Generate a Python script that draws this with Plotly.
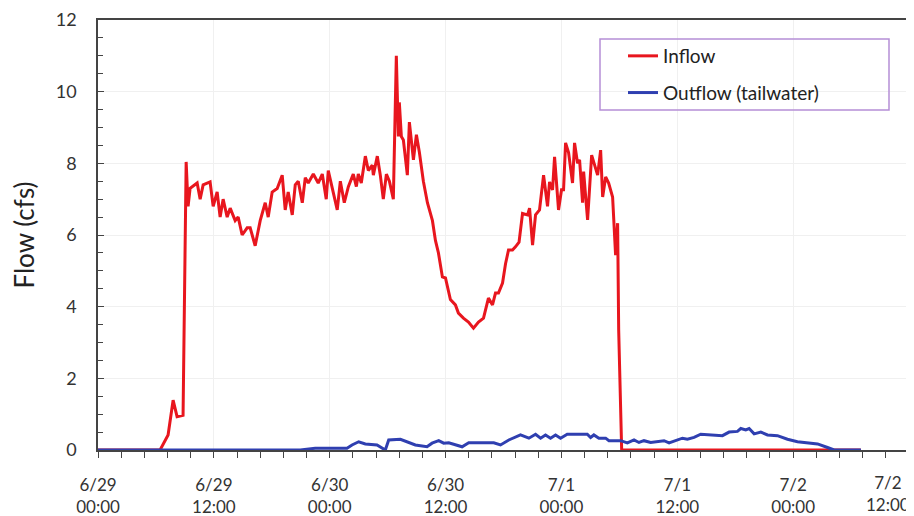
import pandas as pd
import plotly.graph_objects as go

# hours since 6/29 00:00
inflow_hours = [0.0, 6.43, 7.26, 7.78, 8.19, 8.81, 9.13, 9.33, 9.54, 10.27, 10.58, 10.89, 11.61, 11.93,
                12.34, 12.65, 12.96, 13.38, 13.69, 14.21, 14.52, 14.93, 15.45, 15.76, 16.28, 16.80,
                17.32, 17.63, 18.04, 18.56, 19.08, 19.39, 19.70, 20.12, 20.43, 20.74, 21.16, 21.47,
                21.78, 22.30, 22.81, 23.23, 23.64, 23.85, 24.27, 24.78, 25.10, 25.51, 25.93, 26.44,
                26.76, 26.96, 27.27, 27.69, 28.00, 28.41, 28.52, 28.93, 29.24, 29.55, 29.87, 30.18,
                30.59, 30.90, 31.11, 31.21, 31.42, 31.63, 32.04, 32.25, 32.67, 32.98, 33.29, 33.70,
                34.12, 34.64, 34.95, 35.26, 35.67, 35.99, 36.50, 37.02, 37.33, 37.85, 38.37, 38.89,
                39.41, 39.93, 40.44, 40.86, 41.17, 41.48, 41.90, 42.21, 42.52, 42.93, 43.24, 43.61,
                43.97, 44.49, 44.70, 45.01, 45.32, 45.73, 46.15, 46.56, 46.77, 47.08, 47.29, 47.70,
                48.01, 48.22, 48.43, 48.74, 49.15, 49.36, 49.67, 49.88, 50.19, 50.30, 50.50, 50.71,
                51.13, 51.54, 51.75, 52.06, 52.27, 52.58, 52.89, 53.30, 53.41, 53.61, 53.82, 53.93,
                54.24, 79.0]
inflow_cfs = [0.0, 0.0, 0.42, 1.39, 0.93, 0.97, 8.04, 6.8, 7.3, 7.45, 7.0, 7.4, 7.48, 6.8,
              7.2, 6.5, 7.0, 6.5, 6.75, 6.4, 6.5, 6.0, 6.2, 6.2, 5.7, 6.4,
              6.9, 6.5, 7.2, 7.3, 7.67, 6.7, 7.2, 6.56, 7.4, 7.5, 6.9, 7.6,
              7.45, 7.7, 7.45, 7.7, 7.0, 7.8, 7.3, 6.7, 7.5, 6.9, 7.35, 7.7,
              7.35, 7.7, 7.45, 8.2, 7.8, 7.95, 7.67, 8.2, 7.67, 7.0, 7.7, 7.5,
              7.0, 11.0, 8.75, 9.7, 8.75, 8.65, 7.67, 9.15, 8.1, 8.8, 8.3, 7.5,
              6.9, 6.4, 5.85, 5.5, 4.83, 4.8, 4.2, 4.05, 3.82, 3.68, 3.57, 3.4,
              3.57, 3.68, 4.24, 4.05, 4.38, 4.38, 4.66, 5.2, 5.58, 5.58, 5.67, 5.8,
              6.6, 6.56, 6.75, 5.72, 6.56, 6.7, 7.67, 6.8, 7.48, 7.26, 8.18, 6.7,
              7.26, 7.26, 8.57, 8.3, 7.45, 8.57, 8.0, 8.1, 6.9, 7.77, 7.1, 6.42,
              8.23, 7.9, 7.67, 8.37, 7.06, 7.62, 7.45, 7.06, 6.42, 5.44, 6.33, 3.35,
              0.0, 0.0]

outflow_hours = [0.0, 20.95, 22.50, 25.79, 26.31, 27.0, 27.69, 28.90, 29.76, 30.11, 31.32, 32.01,
                 32.87, 34.08, 34.60, 35.29, 35.81, 36.33, 37.20, 37.71, 38.40, 40.99, 41.69,
                 42.55, 43.76, 44.63, 45.32, 45.84, 46.35, 46.87, 47.39, 47.91, 48.60, 50.68,
                 51.02, 51.36, 51.88, 52.58, 52.92, 53.96, 54.13, 54.83, 55.52, 56.03, 56.55,
                 57.24, 57.94, 58.63, 59.15, 59.84, 60.53, 61.05, 61.74, 62.43, 63.47, 64.68,
                 65.37, 66.23, 66.58, 67.09, 67.44, 67.96, 68.65, 69.34, 70.38, 71.41, 72.45,
                 73.49, 74.53, 75.56, 76.25, 79.02]
outflow_cfs = [0.0, 0.0, 0.05, 0.05, 0.14, 0.23, 0.17, 0.14, 0.0, 0.28, 0.3, 0.23,
               0.14, 0.09, 0.19, 0.26, 0.19, 0.2, 0.14, 0.09, 0.2, 0.2, 0.14,
               0.28, 0.42, 0.33, 0.44, 0.33, 0.42, 0.33, 0.42, 0.33, 0.44, 0.44,
               0.35, 0.42, 0.33, 0.33, 0.26, 0.26, 0.26, 0.2, 0.28, 0.21, 0.26,
               0.21, 0.23, 0.26, 0.2, 0.26, 0.33, 0.3, 0.35, 0.44, 0.42, 0.4,
               0.5, 0.52, 0.6, 0.56, 0.6, 0.45, 0.5, 0.42, 0.4, 0.3, 0.23,
               0.19, 0.17, 0.07, 0.0, 0.0]

series_names = ["Inflow", "Outflow (tailwater)"]
y_label = "Flow (cfs)"
last_tick_label = "7/2<br>12:00"

base = pd.Timestamp("2015-06-29 00:00")
inflow_t = [base + pd.Timedelta(hours=h) for h in inflow_hours]
outflow_t = [base + pd.Timedelta(hours=h) for h in outflow_hours]

FONT = "Lato"
fig = go.Figure()
fig.add_trace(go.Scatter(x=inflow_t, y=inflow_cfs, mode="lines", name=series_names[0],
                         legendgroup="a", line=dict(color="#e8161e", width=3)))
fig.add_trace(go.Scatter(x=outflow_t, y=outflow_cfs, mode="lines", name=series_names[1],
                         legendgroup="b", line=dict(color="#2f3fb0", width=3)))

# page body has an 8px margin, so the figure is placed at (8, 8) in the window
OFF = 8
W, H = 914 - OFF, 516 - OFF
L, T = 98 - OFF, 20 - OFF
R = W - (909 - OFF)
B = H - (450 - OFF)
pw, ph = W - L - R, H - T - B

def px_x(x):
    return (x - OFF - L) / pw

def px_y(y):
    return (H - B - (y - OFF)) / ph

fig.update_layout(
    width=W, height=H,
    margin=dict(l=L, r=R, t=T, b=B, autoexpand=False),
    paper_bgcolor="white", plot_bgcolor="white",
    font=dict(family=FONT, color="#333333", size=17),
    showlegend=True,
    legend=dict(x=px_x(623), y=px_y(37), xanchor="left", yanchor="top",
                bgcolor="rgba(0,0,0,0)", borderwidth=0, itemwidth=30,
                tracegroupgap=9, font=dict(size=19, color="#222222")),
    shapes=[dict(type="rect", xref="paper", yref="paper",
                 x0=px_x(600), x1=px_x(889), y0=px_y(110), y1=px_y(39),
                 line=dict(color="#b58fd6", width=1.5))],
    annotations=[dict(text=last_tick_label, xref="paper", yref="paper",
                      x=px_x(888), y=px_y(494), xanchor="center", yanchor="middle",
                      showarrow=False, align="center",
                      font=dict(size=17, color="#333333", family=FONT))],
)
fig.update_xaxes(
    type="date", automargin=False,
    range=[base, base + pd.Timedelta(hours=84)],
    dtick=12 * 3600 * 1000, tick0=base,
    tickformat="%-m/%-d<br>%H:%M",
    ticks="outside", ticklen=6, tickcolor="#444444",
    minor=dict(dtick=2.4 * 3600 * 1000, ticks="outside", ticklen=6, tickcolor="#444444",
               showgrid=False),
    showline=True, linecolor="#444444", linewidth=1.5, mirror=True,
    showgrid=True, gridcolor="#f0f0f0",
    tickfont=dict(size=17, color="#333333"),
    ticklabelstandoff=13,
    zeroline=False,
)
fig.update_yaxes(
    automargin=False,
    range=[0, 12], dtick=2,
    ticks="inside", ticklen=6, tickcolor="#444444",
    minor=dict(dtick=0.5, ticks="inside", ticklen=5, tickcolor="#444444", showgrid=False),
    showline=True, linecolor="#444444", linewidth=1.5, mirror=True,
    showgrid=True, gridcolor="#f0f0f0",
    tickfont=dict(size=18, color="#333333"),
    ticklabelstandoff=16,
    zeroline=False,
    title=dict(text=y_label, font=dict(size=26, color="#222222"), standoff=20),
)
fig.write_html("out.html")
